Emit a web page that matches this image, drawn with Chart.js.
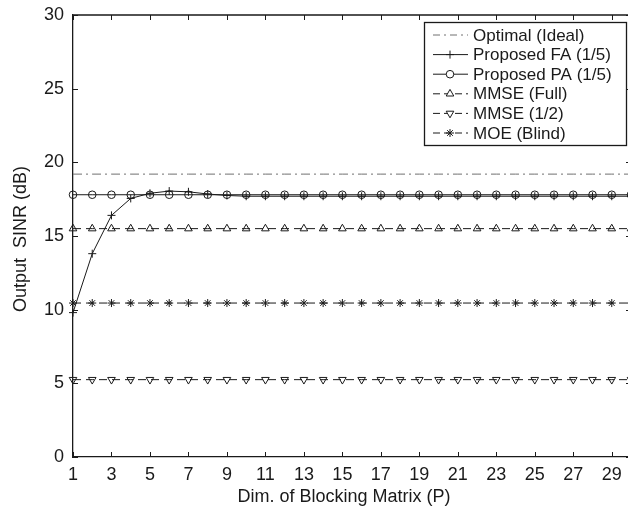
<!DOCTYPE html>
<html>
<head>
<meta charset="utf-8">
<script src="https://cdn.jsdelivr.net/npm/chart.js@4.4.0/dist/chart.umd.min.js"></script>
<style>
  html, body { margin: 0; padding: 0; background: #fff; overflow: hidden; }
  #wrap { width: 628px; height: 517px; overflow: hidden; }
</style>
</head>
<body>
<div id="wrap"><canvas id="sinrChart" width="640" height="517"></canvas></div>
<script>
// --- data ---
const dims = [1,2,3,4,5,6,7,8,9,10,11,12,13,14,15,16,17,18,19,20,21,22,23,24,25,26,27,28,29,30];
const xTicks = [1,3,5,7,9,11,13,15,17,19,21,23,25,27,29];
const yTicks = [0,5,10,15,20,25,30];

const optimal  = [19.2,19.2,19.2,19.2,19.2,19.2,19.2,19.2,19.2,19.2,19.2,19.2,19.2,19.2,19.2,19.2,19.2,19.2,19.2,19.2,19.2,19.2,19.2,19.2,19.2,19.2,19.2,19.2,19.2,19.2];
const propFA   = [9.8,13.8,16.4,17.55,17.9,18.05,18.0,17.85,17.75,17.7,17.7,17.7,17.7,17.7,17.7,17.7,17.7,17.7,17.7,17.7,17.7,17.7,17.7,17.7,17.7,17.7,17.7,17.7,17.7,17.7];
const propPA   = [17.8,17.8,17.8,17.8,17.8,17.8,17.8,17.8,17.8,17.8,17.8,17.8,17.8,17.8,17.8,17.8,17.8,17.8,17.8,17.8,17.8,17.8,17.8,17.8,17.8,17.8,17.8,17.8,17.8,17.8];
const mmseFull = [15.5,15.5,15.5,15.5,15.5,15.5,15.5,15.5,15.5,15.5,15.5,15.5,15.5,15.5,15.5,15.5,15.5,15.5,15.5,15.5,15.5,15.5,15.5,15.5,15.5,15.5,15.5,15.5,15.5,15.5];
const mmseHalf = [5.25,5.25,5.25,5.25,5.25,5.25,5.25,5.25,5.25,5.25,5.25,5.25,5.25,5.25,5.25,5.25,5.25,5.25,5.25,5.25,5.25,5.25,5.25,5.25,5.25,5.25,5.25,5.25,5.25,5.25];
const moeBlind = [10.45,10.45,10.45,10.45,10.45,10.45,10.45,10.45,10.45,10.45,10.45,10.45,10.45,10.45,10.45,10.45,10.45,10.45,10.45,10.45,10.45,10.45,10.45,10.45,10.45,10.45,10.45,10.45,10.45,10.45];

const FONT = '"Liberation Sans", Arial, Helvetica, sans-serif';
const INK = '#1a1a1a';

function pts(arr) {
    return arr.map((v, i) => ({ x: dims[i], y: v }));
}

const seriesDefs = [
    { label: 'Optimal (Ideal)',     data: optimal,  color: '#707070', dash: [9, 4, 2, 4], style: false,      radius: 0,   rot: 0 },
    { label: 'Proposed FA (1/5)',   data: propFA,   color: INK,       dash: [],           style: 'cross',    radius: 4,   rot: 0 },
    { label: 'Proposed PA (1/5)',   data: propPA,   color: INK,       dash: [],           style: 'circle',   radius: 3.8, rot: 0 },
    { label: 'MMSE (Full)',         data: mmseFull, color: INK,       dash: [8, 5],       style: 'triangle', radius: 4.4, rot: 0 },
    { label: 'MMSE (1/2)',          data: mmseHalf, color: INK,       dash: [8, 5],       style: 'triangle', radius: 4.4, rot: 180 },
    { label: 'MOE (Blind)',         data: moeBlind, color: INK,       dash: [8, 5],       style: 'star',     radius: 4,   rot: 0 }
];

const datasets = seriesDefs.map(s => ({
    label: s.label,
    data: pts(s.data),
    borderColor: s.color,
    borderWidth: 1,
    borderDash: s.dash,
    backgroundColor: 'rgba(0,0,0,0)',
    pointStyle: s.style,
    pointRadius: s.radius,
    pointRotation: s.rot,
    pointBorderColor: INK,
    pointBackgroundColor: 'rgba(0,0,0,0)',
    pointBorderWidth: 1,
    tension: 0,
    clip: false
}));

// frame, inner tick marks, axis titles and the boxed legend
const decorations = {
    id: 'decorations',
    afterDraw(chart) {
        const c = chart.ctx;
        const a = chart.chartArea;
        const xs = chart.scales.x, ys = chart.scales.y;
        c.save();
        c.strokeStyle = INK;
        c.lineWidth = 1.3;
        c.setLineDash([]);
        c.beginPath();
        c.moveTo(a.left, a.top); c.lineTo(a.right, a.top); c.lineTo(a.right, a.bottom);
        c.stroke();
        c.lineWidth = 1;
        c.beginPath();
        xTicks.forEach(t => {
            const px = Math.round(xs.getPixelForValue(t)) + 0.5;
            c.moveTo(px, a.bottom); c.lineTo(px, a.bottom - 5);
            c.moveTo(px, a.top); c.lineTo(px, a.top + 5);
        });
        yTicks.forEach(t => {
            const py = Math.round(ys.getPixelForValue(t)) + 0.5;
            c.moveTo(a.left, py); c.lineTo(a.left + 5, py);
            c.moveTo(a.right, py); c.lineTo(a.right - 5, py);
        });
        c.stroke();

        // axis titles
        c.fillStyle = INK;
        c.font = '18px ' + FONT;
        c.textAlign = 'center';
        c.textBaseline = 'middle';
        c.fillText('Dim. of Blocking Matrix (P)', 344, 497);
        c.save();
        c.translate(21, 239);
        c.rotate(-Math.PI / 2);
        c.fillText('Output  SINR (dB)', 0, 0);
        c.restore();

        // legend
        const bx = 424, by = 22, bw = 202, bh = 123;
        c.fillStyle = '#fff';
        c.fillRect(bx, by, bw, bh);
        c.strokeStyle = INK;
        c.lineWidth = 1.3;
        c.strokeRect(bx + 0.5, by + 0.5, bw, bh);
        c.font = '17px ' + FONT;
        c.textAlign = 'left';
        seriesDefs.forEach((s, i) => {
            const y = by + 13 + i * 19.6;
            c.strokeStyle = s.color;
            c.lineWidth = 1;
            c.setLineDash(s.dash.length ? [7, 4] : []);
            if (i === 0) c.setLineDash([7, 4, 2, 4]);
            c.beginPath();
            c.moveTo(433, y); c.lineTo(468, y);
            c.stroke();
            c.setLineDash([]);
            if (s.style) {
                c.strokeStyle = INK;
                c.fillStyle = '#fff';
                Chart.helpers.drawPoint(c, {
                    pointStyle: s.style, radius: s.radius, rotation: s.rot, borderWidth: 1
                }, 450, y);
            }
            c.fillStyle = INK;
            c.fillText(s.label, 473, y + 1);
        });
        c.restore();
    }
};

const ctx = document.getElementById('sinrChart').getContext('2d');
new Chart(ctx, {
    type: 'line',
    data: { datasets: datasets },
    plugins: [decorations],
    options: {
        responsive: false,
        animation: false,
        layout: { padding: { top: 15, right: 9, left: 0, bottom: 0 } },
        plugins: {
            legend: { display: false },
            tooltip: { enabled: false }
        },
        scales: {
            x: {
                type: 'linear',
                min: 1,
                max: 30,
                afterBuildTicks: axis => { axis.ticks = xTicks.map(v => ({ value: v })); },
                afterFit: axis => { axis.height = 60; axis.paddingLeft = 0; axis.paddingRight = 0; },
                grid: { drawOnChartArea: false, drawTicks: false },
                border: { display: true, color: INK, width: 1.3 },
                ticks: { color: INK, font: { family: FONT, size: 18 }, padding: 7, maxRotation: 0, autoSkip: false }
            },
            y: {
                min: 0,
                max: 30,
                afterBuildTicks: axis => { axis.ticks = yTicks.map(v => ({ value: v })); },
                afterFit: axis => { axis.width = 73; axis.paddingTop = 0; axis.paddingBottom = 0; },
                grid: { drawOnChartArea: false, drawTicks: false },
                border: { display: true, color: INK, width: 1.3 },
                ticks: { color: INK, font: { family: FONT, size: 18 }, padding: 9 }
            }
        }
    }
});
</script>
</body>
</html>
